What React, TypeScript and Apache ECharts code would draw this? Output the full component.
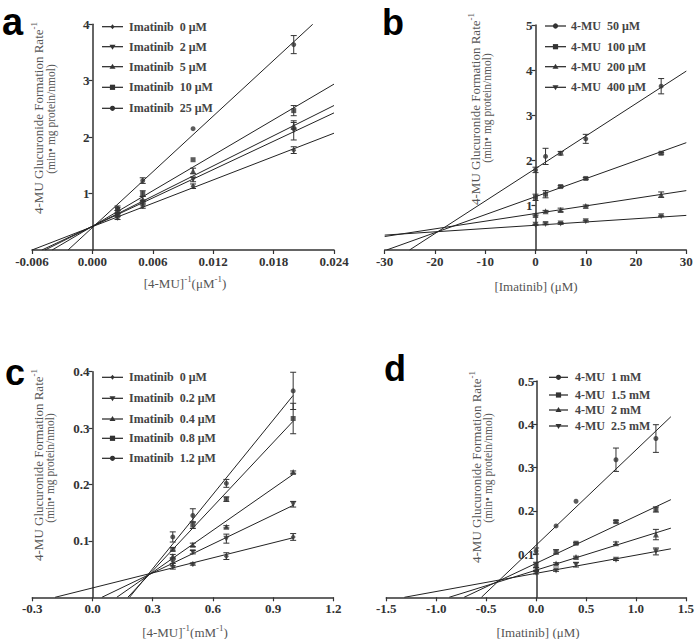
import React, { useEffect, useRef } from 'react';
import * as echarts from 'echarts';

const SERIF = "'Liberation Serif', 'DejaVu Serif', serif";
const SANS = "'Liberation Sans', Arial, sans-serif";

// ---------- Panel a ----------
const aX = [0.0025, 0.005, 0.01, 0.02];
const aNames = ['Imatinib  0 μM', 'Imatinib  2 μM', 'Imatinib  5 μM', 'Imatinib  10 μM', 'Imatinib  25 μM'];
const aY0 = [0.57, 0.78, 1.13, 1.77];
const aY2 = [0.62, 0.84, 1.25, 2.12];
const aY5 = [0.66, 0.9, 1.4, 2.2];
const aY10 = [0.7, 1.0, 1.6, 2.47];
const aY25 = [0.74, 1.23, 2.15, 3.64];
const aE0 = [0.03, 0.04, 0.04, 0.06];
const aE2 = [0.03, 0.04, 0.04, 0.17];
const aE5 = [0.04, 0.05, 0.05, 0.06];
const aE10 = [0.05, 0.05, 0, 0.09];
const aE25 = [0.04, 0.05, 0, 0.16];
const aSlope = [69, 83.75, 89.2, 105, 164.6];
const aIntercept = [0.414, 0.42, 0.42, 0.42, 0.398];

// ---------- Panel b ----------
const bX = [0, 2, 5, 10, 25];
const bNames = ['4-MU  50 μM', '4-MU  100 μM', '4-MU  200 μM', '4-MU  400 μM'];
const bY50 = [1.78, 2.08, 2.15, 2.47, 3.64];
const bY100 = [1.17, 1.24, 1.41, 1.59, 2.15];
const bY200 = [0.78, 0.86, 0.89, 0.98, 1.23];
const bY400 = [0.56, 0.58, 0.59, 0.64, 0.75];
const bE50 = [0.06, 0.18, 0.04, 0.1, 0.17];
const bE100 = [0.07, 0.08, 0.02, 0.02, 0.02];
const bE200 = [0.02, 0.02, 0.04, 0.02, 0.06];
const bE400 = [0.01, 0.02, 0.02, 0.02, 0.01];
const bSlope = [0.0722, 0.04, 0.017, 0.0073];
const bIntercept = [1.81, 1.185, 0.81, 0.55];

// ---------- Panel c ----------
const cX = [0.4, 0.5, 0.667, 1.0];
const cNames = ['Imatinib  0 μM', 'Imatinib  0.2 μM', 'Imatinib  0.4 μM', 'Imatinib  0.8 μM', 'Imatinib  1.2 μM'];
const cY0 = [0.055, 0.059, 0.073, 0.107];
const cY02 = [0.062, 0.08, 0.104, 0.165];
const cY04 = [0.073, 0.093, 0.125, 0.222];
const cY08 = [0.085, 0.128, 0.174, 0.317];
const cY12 = [0.107, 0.145, 0.202, 0.366];
const cE0 = [0.005, 0.002, 0.006, 0.006];
const cE02 = [0.006, 0.003, 0.008, 0.005];
const cE04 = [0.003, 0.003, 0.002, 0.002];
const cE08 = [0.003, 0.006, 0.004, 0.027];
const cE12 = [0.009, 0.012, 0.007, 0.033];
const cSlope = [0.089, 0.171, 0.248, 0.379, 0.439];
const cIntercept = [0.0166, -0.008, -0.03, -0.0667, -0.081];

// ---------- Panel d ----------
const dX = [0, 0.2, 0.4, 0.8, 1.2];
const dNames = ['4-MU  1 mM', '4-MU  1.5 mM', '4-MU  2 mM', '4-MU  2.5 mM'];
const dY1 = [0.107, 0.165, 0.222, 0.318, 0.367];
const dY15 = [0.075, 0.105, 0.125, 0.175, 0.203];
const dY2 = [0.065, 0.078, 0.093, 0.125, 0.145];
const dY25 = [0.057, 0.062, 0.075, 0.087, 0.106];
const dE1 = [0.007, 0, 0, 0.027, 0.032];
const dE15 = [0.006, 0.005, 0.002, 0.003, 0.006];
const dE2 = [0.003, 0.002, 0.002, 0.003, 0.012];
const dE25 = [0.003, 0.002, 0.005, 0.002, 0.008];
const dSlope = [0.22, 0.109, 0.072, 0.042];
const dIntercept = [0.1205, 0.0786, 0.0627, 0.0554];

const MARK = '#333';
const LINE = '#222';
const TXT = '#444';

type Sym = 'diamond' | 'inv' | 'tri' | 'rect' | 'circle';
const symAC: Sym[] = ['diamond', 'inv', 'tri', 'rect', 'circle'];
const symBD: Sym[] = ['circle', 'rect', 'tri', 'inv'];

function symSpec(s: Sym) {
  switch (s) {
    case 'diamond': return { symbol: 'diamond', symbolSize: [5, 6], symbolRotate: 0 };
    case 'inv': return { symbol: 'triangle', symbolSize: 6, symbolRotate: 180 };
    case 'tri': return { symbol: 'triangle', symbolSize: 6, symbolRotate: 0 };
    case 'rect': return { symbol: 'rect', symbolSize: 5, symbolRotate: 0 };
    default: return { symbol: 'circle', symbolSize: 5, symbolRotate: 0 };
  }
}

function legendSymbol(s: Sym, cx: number, cy: number): any {
  const style = { fill: MARK };
  switch (s) {
    case 'circle': return { type: 'circle', shape: { cx, cy, r: 2.6 }, style };
    case 'rect': return { type: 'rect', shape: { x: cx - 2.6, y: cy - 2.6, width: 5.2, height: 5.2 }, style };
    case 'tri': return { type: 'polygon', shape: { points: [[cx, cy - 3], [cx + 3, cy + 2], [cx - 3, cy + 2]] }, style };
    case 'inv': return { type: 'polygon', shape: { points: [[cx, cy + 3], [cx + 3, cy - 2], [cx - 3, cy - 2]] }, style };
    default: return { type: 'polygon', shape: { points: [[cx, cy - 2.5], [cx + 2, cy], [cx, cy + 2.5], [cx - 2, cy]] }, style };
  }
}

function errorRender(params: any, api: any) {
  const x = api.value(0), y = api.value(1), e = api.value(2);
  if (!e) return null;
  const t = api.coord([x, y + e]);
  const b = api.coord([x, y - e]);
  const w = 3;
  const st = { stroke: MARK, lineWidth: 1 };
  return {
    type: 'group',
    children: [
      { type: 'line', shape: { x1: t[0], y1: t[1], x2: b[0], y2: b[1] }, style: st },
      { type: 'line', shape: { x1: t[0] - w, y1: t[1], x2: t[0] + w, y2: t[1] }, style: st },
      { type: 'line', shape: { x1: b[0] - w, y1: b[1], x2: b[0] + w, y2: b[1] }, style: st },
    ],
  };
}

function fitLine(m: number, b: number, xmin: number, xend: number, ymax: number) {
  const x0 = Math.max(xmin, -b / m);
  const x1 = Math.min(xend, (ymax - b) / m);
  return [[x0, m * x0 + b], [x1, m * x1 + b]];
}

function panelSeries(idx: number, xs: number[], ys: number[][], es: number[][], syms: Sym[],
  slopes: number[], intercepts: number[], xmin: number, xend: number, ymax: number, names: string[]) {
  const out: any[] = [];
  ys.forEach((y, k) => {
    out.push({
      type: 'line', name: names[k] + ' fit', xAxisIndex: idx, yAxisIndex: idx,
      data: fitLine(slopes[k], intercepts[k], xmin, xend, ymax),
      symbol: 'none', showSymbol: false, silent: true, z: 2,
      lineStyle: { color: LINE, width: 1 },
    });
    out.push({
      type: 'custom', name: names[k] + ' err', xAxisIndex: idx, yAxisIndex: idx,
      data: xs.map((x, i) => [x, y[i], es[k][i]]), encode: { x: 0, y: 1 },
      renderItem: errorRender, silent: true, z: 3,
    });
    out.push({
      type: 'scatter', name: names[k], xAxisIndex: idx, yAxisIndex: idx,
      data: xs.map((x, i) => [x, y[i]]), ...symSpec(syms[k]),
      itemStyle: { color: MARK }, silent: true, z: 4,
    });
  });
  return out;
}

function legendGraphics(names: string[], syms: Sym[], x0: number, x1: number, tx: number, ys: number[]) {
  const g: any[] = [];
  names.forEach((n, i) => {
    const y = ys[i];
    g.push({ type: 'line', shape: { x1: x0, y1: y, x2: x1, y2: y }, style: { stroke: LINE, lineWidth: 1.2 } });
    g.push(legendSymbol(syms[i], (x0 + x1) / 2, y));
    g.push({
      type: 'text', x: tx, y,
      style: { text: n, fill: TXT, font: `bold 12px ${SERIF}`, fontFamily: SERIF, fontSize: 12, fontWeight: 'bold', align: 'left', verticalAlign: 'middle' },
    });
  });
  return g;
}

const supRich = {
  m: { fontFamily: SERIF, fontSize: 13, color: '#555', fill: '#555' },
  s: { fontFamily: SERIF, fontSize: 9, color: '#555', fill: '#555', padding: [0, 0, 9, 0] },
};

function yTitle(x1: number, y1: number, x2: number, y2: number) {
  return [
    {
      type: 'text', x: x1, y: y1, rotation: Math.PI / 2,
      style: { text: '{m|4-MU Glucuronide Formation Rate}{s|-1}', rich: supRich, align: 'center', verticalAlign: 'middle', fill: '#555' },
    },
    {
      type: 'text', x: x2, y: y2, rotation: Math.PI / 2,
      style: { text: '(min• mg protein/nmol)', font: `11.5px ${SERIF}`, fontFamily: SERIF, fontSize: 11.5, fill: '#555', align: 'center', verticalAlign: 'middle' },
    },
  ];
}

function xTitleRecip(unit: string, x: number, y: number) {
  return {
    type: 'text', x, y,
    style: { text: `{m|[4-MU]}{s|-1}{m|(${unit}}{s|-1}{m|)}`, rich: supRich, align: 'center', verticalAlign: 'middle', fill: '#555' },
  };
}

function xTitlePlain(x: number, y: number) {
  return {
    type: 'text', x, y,
    style: { text: '[Imatinib] (μM)', font: `13px ${SERIF}`, fontFamily: SERIF, fontSize: 13, fill: '#555', align: 'center', verticalAlign: 'middle' },
  };
}

function letter(t: string, x: number, y: number, size: number) {
  return {
    type: 'text', x, y,
    style: { text: t, font: `bold ${size}px ${SANS}`, fontFamily: SANS, fontWeight: 'bold', fontSize: size, fill: '#000', align: 'left', verticalAlign: 'middle' },
  };
}

function makeX(idx: number, min: number, max: number, interval: number, dec: number) {
  return {
    type: 'value', gridIndex: idx, min, max, interval,
    axisLine: { show: true, onZero: false, lineStyle: { color: '#333', width: 1.5 } },
    axisTick: { show: true, length: 4, lineStyle: { color: '#333', width: 1.2 } },
    axisLabel: {
      color: '#333', fontFamily: SERIF, fontSize: 13, fontWeight: 'bold', margin: 5,
      showMinLabel: true, showMaxLabel: true,
      formatter: (v: number) => (Math.abs(v) < 1e-9 ? (0).toFixed(dec) : v.toFixed(dec)),
    },
    splitLine: { show: false },
  };
}

// y axis sits on x = 0: offset from grid's left edge is derived from the x range and grid width
function makeY(idx: number, max: number, interval: number, dec: number, xmin: number, xmax: number, gridW: number) {
  const off = -gridW * (0 - xmin) / (xmax - xmin);
  return {
    type: 'value', gridIndex: idx, min: 0, max, interval, offset: off,
    axisLine: { show: true, onZero: false, lineStyle: { color: '#333', width: 1.5 } },
    axisTick: { show: true, length: 4, lineStyle: { color: '#333', width: 1.2 } },
    axisLabel: {
      color: '#333', fontFamily: SERIF, fontSize: 13, fontWeight: 'bold', margin: 3,
      showMinLabel: false, showMaxLabel: true,
      formatter: (v: number) => v.toFixed(dec),
    },
    splitLine: { show: false },
  };
}

export default function App() {
  const ref = useRef<HTMLDivElement>(null);
  useEffect(() => {
    if (!ref.current) return;
    const chart = echarts.init(ref.current, undefined, { renderer: 'svg' });
    const grids = [
      { left: 32, top: 24.3, width: 302, height: 225.7 },
      { left: 384.7, top: 25, width: 301.6, height: 225 },
      { left: 32.3, top: 371.7, width: 301, height: 225.6 },
      { left: 386.3, top: 381, width: 301.7, height: 216.3 },
    ];
    const series = [
      ...panelSeries(0, aX, [aY0, aY2, aY5, aY10, aY25], [aE0, aE2, aE5, aE10, aE25], symAC, aSlope, aIntercept, -0.006, 0.024, 4, aNames),
      ...panelSeries(1, bX, [bY50, bY100, bY200, bY400], [bE50, bE100, bE200, bE400], symBD, bSlope, bIntercept, -30, 30, 5, bNames),
      ...panelSeries(2, cX, [cY0, cY02, cY04, cY08, cY12], [cE0, cE02, cE04, cE08, cE12], symAC, cSlope, cIntercept, -0.3, 1.0, 0.4, cNames),
      ...panelSeries(3, dX, [dY1, dY15, dY2, dY25], [dE1, dE15, dE2, dE25], symBD, dSlope, dIntercept, -1.5, 1.35, 0.5, dNames),
    ];
    const graphic = [
      letter('a', 2, 22, 38),
      letter('b', 382, 22, 36),
      letter('c', 5, 372, 36),
      letter('d', 384, 368, 36),
      ...yTitle(38, 118, 51, 119),
      ...yTitle(475, 109, 487, 108),
      ...yTitle(38, 465, 50, 468),
      ...yTitle(476, 467, 488, 468),
      xTitleRecip('μM', 185, 283),
      xTitlePlain(536, 286),
      xTitleRecip('mM', 185, 632),
      xTitlePlain(538, 632),
      ...legendGraphics(aNames, symAC, 102, 123, 129, [26.7, 46.7, 66.7, 87.3, 108.3]),
      ...legendGraphics(bNames, symBD, 545, 566, 571, [26, 46.7, 66.7, 87.3]),
      ...legendGraphics(cNames, symAC, 102, 123, 129, [377.3, 398.3, 419, 438.3, 458.3]),
      ...legendGraphics(dNames, symBD, 549, 568, 575, [377.3, 395, 410, 426]),
    ];
    chart.setOption({
      animation: false,
      backgroundColor: '#fff',
      grid: grids,
      xAxis: [
        makeX(0, -0.006, 0.024, 0.006, 3),
        makeX(1, -30, 30, 10, 0),
        makeX(2, -0.3, 1.2, 0.3, 1),
        makeX(3, -1.5, 1.5, 0.5, 1),
      ],
      yAxis: [
        makeY(0, 4, 1, 0, -0.006, 0.024, grids[0].width),
        makeY(1, 5, 1, 0, -30, 30, grids[1].width),
        makeY(2, 0.4, 0.1, 1, -0.3, 1.2, grids[2].width),
        makeY(3, 0.5, 0.1, 1, -1.5, 1.5, grids[3].width),
      ],
      series,
      graphic,
    });
    return () => chart.dispose();
  }, []);
  return <div ref={ref} style={{ position: 'absolute', left: 0, top: 0, width: 697, height: 639 }} />;
}
